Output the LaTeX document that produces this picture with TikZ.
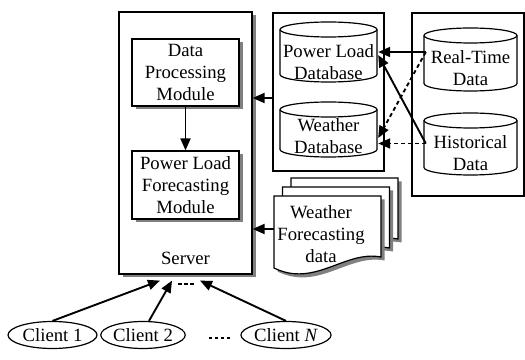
\documentclass[tikz,border=0pt]{standalone}
\usepackage{fontspec}
\setmainfont{Liberation Serif}
\usetikzlibrary{arrows.meta,shapes.geometric,shadows,calc}
\newcommand\fsz{\fontsize{18.7}{22}\selectfont}
% cylinder outline: centre x, x radius, top y, bottom y
\newcommand\drawcyl[4]{%
  \draw[line width=1.2pt, fill=white] (#1-#2,#3-7.5) -- (#1-#2,#4+7.5)
    arc[start angle=180,end angle=360,x radius=#2,y radius=7.5]
    -- (#1+#2,#3-7.5)
    arc[start angle=0,end angle=180,x radius=#2,y radius=7.5] -- cycle;
  \draw[line width=1.2pt] (#1-#2,#3-7.5)
    arc[start angle=180,end angle=360,x radius=#2,y radius=7.5];}
% document sheet with shadow, offset dx dy
\newcommand\docsheet[2]{%
  \fill[black!50] (277.5+#1,159.5+#2) -- (384.5+#1,159.5+#2) -- (384.5+#1,98.5+#2)
     .. controls (348.5+#1,105.5+#2) and (318.5+#1,67.5+#2) .. (277.5+#1,87.5+#2) -- cycle;
  \draw[line width=1.2pt, fill=white] (274+#1,163+#2) -- (381+#1,163+#2) -- (381+#1,102+#2)
     .. controls (345+#1,109+#2) and (315+#1,71+#2) .. (274+#1,91+#2) -- cycle;}
\begin{document}
\begin{tikzpicture}[x=1pt,y=1pt,
  every node/.style={font=\fsz, align=center, inner sep=0pt},
  box/.style={draw, line width=1.2pt, fill=white},
  shad/.style={drop shadow={shadow xshift=3.5pt,shadow yshift=-3.5pt,fill=black!50,opacity=1}},
  arr/.style={line width=1.9pt, -{Triangle[length=12pt,width=10pt]}},
  darr/.style={arr, dash pattern=on 4pt off 3pt},
  dsh/.style={line width=1.9pt, dash pattern=on 3.5pt off 2.5pt},
  client/.style={ellipse, draw, line width=1.2pt, minimum height=27pt}]
\useasboundingbox (0,0) rectangle (525,359);

% server and modules
\node[box, shad, minimum width=133pt, minimum height=262pt] (server) at (185.5,216) {};
\node (serverlabel) at (185.5,101) {Server};
\node[box, shad, minimum width=107pt, minimum height=67pt] (dpm) at (185.5,286.5) {Data\\Processing\\Module};
\node[box, shad, minimum width=107pt, minimum height=68pt] (plfm) at (185.5,174) {Power Load\\Forecasting\\Module};

% database box and source box
\node[draw, line width=1.2pt, minimum width=111pt, minimum height=158pt] (dbbox) at (328.5,267) {};
\node[draw, line width=1.2pt, minimum width=112pt, minimum height=183pt] (srcbox) at (468,254.5) {};

\drawcyl{328.5}{48.5}{337}{277}
\drawcyl{328.5}{48.5}{257}{202}
\drawcyl{470.5}{46.5}{331}{268}
\drawcyl{470.5}{46.5}{246}{184}
\node[minimum width=97pt] (pld) at (328.5,296.5) {Power Load\\Database};
\node[minimum width=97pt] (wdb) at (328.5,223) {Weather\\Database};
\node[minimum width=93pt] (rt) at (470.5,291) {Real-Time\\Data};
\node[minimum width=93pt] (hist) at (470.5,205.5) {Historical\\Data};

% weather forecasting documents
\docsheet{17}{18}
\docsheet{8.5}{9}
\docsheet{0}{0}
\node[minimum width=107pt, minimum height=72pt] (wfd) at (327.5,127) {};
\node (wfdtext) at (321,125) {Weather\\Forecasting\\data};

% clients
\node[client, minimum width=89pt] (c1) at (52.5,24) {Client 1};
\node[client, minimum width=78pt] (c2) at (143,24) {Client 2};
\node[client, minimum width=88pt] (cn) at (286,24) {Client \textit{N}};

% connectors
\draw[arr] (dpm.south) -- (plfm.north);
\coordinate (dbout) at ([yshift=-6pt]dbbox.west);
\draw[arr] (dbout) -- (dbout -| server.east);
\coordinate (docout) at ([yshift=3pt]wfd.west);
\draw[arr] (docout) -- (docout -| server.east);

\coordinate (rtout) at ([xshift=2pt,yshift=16pt]rt.west);
\coordinate (hout) at ([xshift=2pt,yshift=10pt]hist.west);
\coordinate (pldin) at ([xshift=1pt,yshift=7.5pt]pld.east);
\coordinate (wdbin) at ([xshift=1pt,yshift=-2pt]wdb.east);
\draw[arr] (rtout) -- (rtout -| pldin);
\draw[arr] (hout) -- (pldin);
\draw[darr] (rtout) -- (wdbin);
\draw[darr] (hout) -- (hout -| wdbin);

\coordinate (s1) at ([xshift=-25.5pt,yshift=-6pt]server.south);
\coordinate (s2) at ([xshift=-13.5pt,yshift=-6pt]server.south);
\coordinate (sn) at ([xshift=14.5pt,yshift=-6pt]server.south);
\draw[arr] (c1.north) -- (s1);
\draw[arr] ([xshift=6pt]c2.north) -- (s2);
\draw[arr] (cn.north) -- (sn);
\coordinate (d1) at ([yshift=-3pt]s2);
\coordinate (d2) at ([yshift=-3pt]sn);
\draw[dsh, shorten <=6pt, shorten >=5pt] (d1) -- (d2);
\draw[dsh, shorten <=23pt, shorten >=9pt]
  ([yshift=-3pt]c2.east) -- ([yshift=-3pt]cn.west);
\end{tikzpicture}
\end{document}
